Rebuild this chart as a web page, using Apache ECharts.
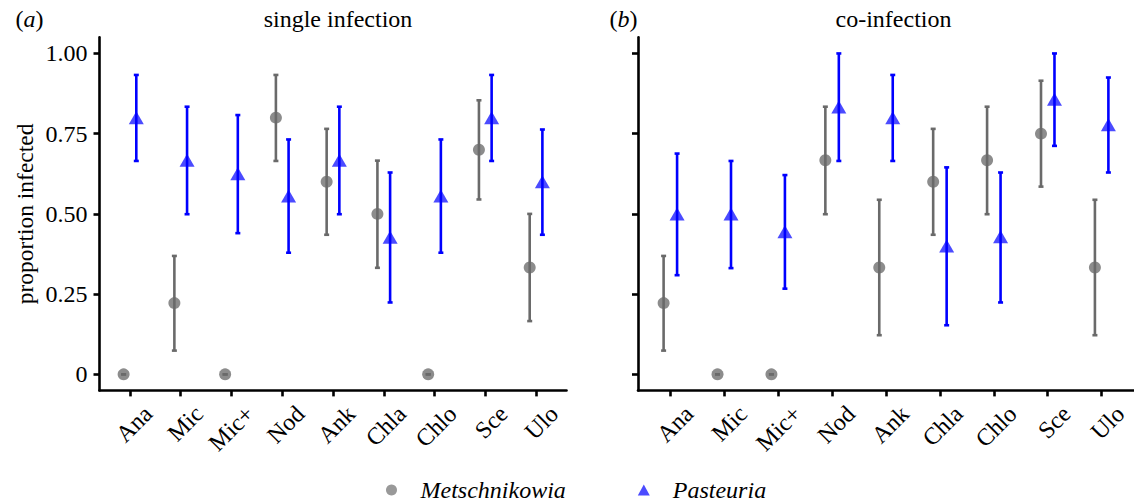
<!DOCTYPE html>
<html>
<head>
<meta charset="utf-8">
<script src="https://cdn.jsdelivr.net/npm/echarts@6/dist/echarts.min.js"></script>
<style>
html,body{margin:0;padding:0;background:#fff;}
#chart{width:1134px;height:504px;}
</style>
</head>
<body>
<div id="chart"></div>
<script>
// ---- data ----
const categories = ['Ana','Mic','Mic+','Nod','Ank','Chla','Chlo','Sce','Ulo'];
const yTickValues = [0, 0.25, 0.5, 0.75, 1];
const yTickLabels = ['0', '0.25', '0.50', '0.75', '1.00'];
const panelTitles = ['single infection', 'co-infection'];
const panelTags = ['a', 'b'];
const seriesNames = ['Metschnikowia', 'Pasteuria'];

// single infection
const metsSingle   = [0, 0.222, 0, 0.800, 0.600, 0.500, 0, 0.700, 0.333];
const metsSingleLo = [0, 0.074, 0, 0.665, 0.435, 0.332, 0, 0.545, 0.166];
const metsSingleHi = [0, 0.369, 0, 0.933, 0.765, 0.666, 0, 0.854, 0.500];
const pastSingle   = [0.800, 0.667, 0.625, 0.556, 0.667, 0.427, 0.556, 0.800, 0.600];
const pastSingleLo = [0.665, 0.499, 0.440, 0.379, 0.499, 0.224, 0.379, 0.665, 0.435];
const pastSingleHi = [0.933, 0.834, 0.808, 0.732, 0.834, 0.629, 0.732, 0.933, 0.763];

// co-infection
const metsCo   = [0.222, 0, 0, 0.667, 0.333, 0.600, 0.667, 0.750, 0.333];
const metsCoLo = [0.074, 0, 0, 0.499, 0.122, 0.435, 0.499, 0.585, 0.122];
const metsCoHi = [0.369, 0, 0, 0.834, 0.544, 0.765, 0.834, 0.915, 0.544];
const pastCo   = [0.500, 0.500, 0.444, 0.833, 0.800, 0.400, 0.429, 0.857, 0.778];
const pastCoLo = [0.309, 0.331, 0.267, 0.665, 0.665, 0.153, 0.224, 0.712, 0.629];
const pastCoHi = [0.688, 0.665, 0.621, 1.000, 0.933, 0.645, 0.629, 1.000, 0.925];

// ---- styles ----
const FONT = "'Liberation Serif', 'DejaVu Serif', serif";
const GREY_PT = '#8c8c8c', GREY_BAR = '#6a6a6a';
const BLUE_PT = '#4b4bff', BLUE_BAR = '#0000ff';
const DODGE = 0.125;
const CAP = 2.5;
const LABEL_SHIFT = 0.19; // label anchor offset (rotated ggplot-style labels)

const chart = echarts.init(document.getElementById('chart'), null, {renderer: 'svg'});

function pts(vals, off) { return vals.map((v, i) => [i + off, v]); }
function bars(lo, hi, off) { return lo.map((l, i) => [i + off, l, hi[i]]); }

function errRender(color) {
  return function (params, api) {
    const x = api.value(0), lo = api.value(1), hi = api.value(2);
    const a = api.coord([x, hi]), b = api.coord([x, lo]);
    const st = {stroke: color, lineWidth: 2.6, lineCap: 'butt'};
    return {type: 'group', children: [
      {type: 'line', shape: {x1: a[0], y1: a[1], x2: b[0], y2: b[1]}, style: st},
      {type: 'line', shape: {x1: a[0] - CAP, y1: a[1], x2: a[0] + CAP, y2: a[1]}, style: st},
      {type: 'line', shape: {x1: b[0] - CAP, y1: b[1], x2: b[0] + CAP, y2: b[1]}, style: st}
    ]};
  };
}

const grids = [
  {left: 99.5, top: 37.4, width: 467, height: 353},
  {left: 638, top: 37.4, width: 503, height: 353}
];

const axisLineStyle = {color: '#000', width: 2.6};

const xAxes = grids.map((g, k) => ({
  type: 'value', gridIndex: k, min: -0.6, max: 8.6,
  axisLine: {show: true, onZero: false, lineStyle: axisLineStyle},
  axisTick: {show: true, length: 6, lineStyle: axisLineStyle, customValues: categories.map((c, i) => i)},
  axisLabel: {
    show: true, customValues: categories.map((c, i) => i + LABEL_SHIFT),
    formatter: v => categories[Math.round(v - LABEL_SHIFT)],
    rotate: 45, align: 'right', verticalAlign: 'top', margin: 11,
    fontFamily: FONT, fontSize: 24, color: '#000'
  },
  splitLine: {show: false}
}));

const yAxes = grids.map((g, k) => ({
  type: 'value', gridIndex: k, min: -0.05, max: 1.05,
  name: k === 0 ? 'proportion infected' : '',
  nameLocation: 'middle', nameGap: 63,
  nameTextStyle: {fontFamily: FONT, fontSize: 23.5, color: '#000'},
  axisLine: {show: true, onZero: false, lineStyle: axisLineStyle},
  axisTick: {show: true, length: 6, lineStyle: axisLineStyle, customValues: yTickValues},
  axisLabel: {
    show: k === 0, customValues: yTickValues,
    formatter: v => yTickLabels[yTickValues.indexOf(v)] ?? '',
    margin: 12, fontFamily: FONT, fontSize: 24, color: '#000'
  },
  splitLine: {show: false}
}));

const panelData = [
  {m: metsSingle, mLo: metsSingleLo, mHi: metsSingleHi, p: pastSingle, pLo: pastSingleLo, pHi: pastSingleHi},
  {m: metsCo, mLo: metsCoLo, mHi: metsCoHi, p: pastCo, pLo: pastCoLo, pHi: pastCoHi}
];

const series = [];
panelData.forEach((d, k) => {
  series.push({
    name: seriesNames[0], type: 'scatter', xAxisIndex: k, yAxisIndex: k,
    symbol: 'circle', symbolSize: 12, itemStyle: {color: GREY_PT, opacity: 1},
    data: pts(d.m, -DODGE), z: 2, silent: true
  });
  series.push({
    name: seriesNames[1], type: 'scatter', xAxisIndex: k, yAxisIndex: k,
    symbol: 'triangle', symbolSize: [15, 13], itemStyle: {color: BLUE_PT, opacity: 1},
    data: pts(d.p, DODGE), z: 2, silent: true
  });
  series.push({
    name: seriesNames[0], type: 'custom', xAxisIndex: k, yAxisIndex: k,
    renderItem: errRender(GREY_BAR), data: bars(d.mLo, d.mHi, -DODGE),
    encode: {x: 0, y: [1, 2]}, z: 3, silent: true, itemStyle: {color: GREY_PT}
  });
  series.push({
    name: seriesNames[1], type: 'custom', xAxisIndex: k, yAxisIndex: k,
    renderItem: errRender(BLUE_BAR), data: bars(d.pLo, d.pHi, DODGE),
    encode: {x: 0, y: [1, 2]}, z: 3, silent: true, itemStyle: {color: BLUE_PT}
  });
});

const titleCenters = [333, 888.5];
const tagLefts = [10.5, 604.5];
const titles = [];
panelTitles.forEach((t, k) => {
  titles.push({
    text: t, left: titleCenters[k], top: 2, textAlign: 'center',
    textStyle: {fontFamily: FONT, fontSize: 24, fontWeight: 'normal', color: '#000'}
  });
  titles.push({
    text: '(' + '{i|' + panelTags[k] + '})', left: tagLefts[k], top: 2,
    textStyle: {fontFamily: FONT, fontSize: 24, fontWeight: 'normal', color: '#000',
      rich: {i: {fontFamily: FONT, fontSize: 24, fontStyle: 'italic', color: '#000'}}}
  });
});

chart.setOption({
  animation: false,
  backgroundColor: '#fff',
  title: titles,
  grid: grids,
  xAxis: xAxes,
  yAxis: yAxes,
  legend: {
    left: 386, top: 478, padding: 0,
    itemWidth: 12, itemHeight: 11, itemGap: 72,
    selectedMode: false,
    textStyle: {fontFamily: FONT, fontSize: 24, fontStyle: 'italic', color: '#000', padding: [0, 0, 0, 18]},
    data: [
      {name: seriesNames[0], icon: 'circle', itemStyle: {color: '#999999'}},
      {name: seriesNames[1], icon: 'triangle', itemStyle: {color: BLUE_PT}}
    ]
  },
  series: series
});
</script>
</body>
</html>
